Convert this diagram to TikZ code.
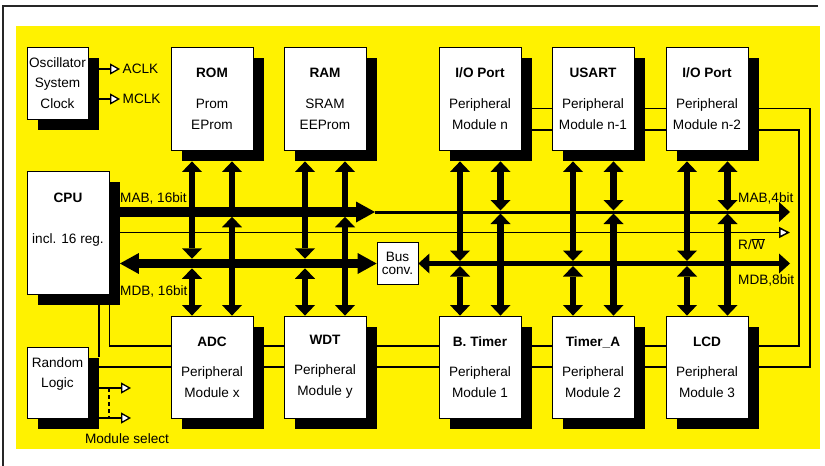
\documentclass[tikz,border=0pt]{standalone}
\usepackage{fontspec}
\setmainfont{Liberation Sans}
\usetikzlibrary{arrows.meta,shadows,calc}
\pgfdeclarelayer{bglayer}
\pgfdeclarelayer{ctllayer}
\pgfsetlayers{bglayer,ctllayer,main}
\tikzset{
  VT/.tip={Triangle[length=10.5pt,width=20pt,line width=0pt]},
  BT/.tip={Triangle[length=19pt,width=21pt,line width=0pt]},
  MT/.tip={Triangle[length=11pt,width=20pt,line width=0pt]},
  OT/.tip={Triangle[open,fill=white,length=10pt,width=11pt]},
}
\begin{document}
\begin{tikzpicture}[x=1pt,y=-1pt,
  font=\fontsize{13.6}{21}\selectfont,
  plainbox/.style={draw=black,line width=0.8pt,fill=white,inner sep=0pt,align=center},
  shbox/.style={plainbox,drop shadow={shadow xshift=10.5pt,shadow yshift=-10.5pt,fill=black,opacity=1}},
  modbox/.style={shbox,minimum width=82pt,minimum height=103pt},
  ctl/.style={line width=1.3pt},
  vbus/.style={line width=6.5pt,VT-VT},
  vtip/.style={line width=6.5pt,-VT},
  bigbus/.style={line width=9.5pt},
  lbl/.style={inner sep=0pt,anchor=west}
]
\useasboundingbox (0,0) rectangle (825,466);

\begin{pgfonlayer}{bglayer}
  \draw[line width=1.5pt,black!85] (818,6) -- (3,6) -- (3,466);
  \fill[yellow] (16,26) rectangle (820,449);
\end{pgfonlayer}

% ---------- boxes ----------
\node[shbox,minimum width=61pt,minimum height=72pt,font=\fontsize{13.6}{20.5}\selectfont] (osc) at (57.5,83) {Oscillator\\System\\Clock};
\node[modbox] (rom) at (212,98.5) {\textbf{ROM}\\[10pt]Prom\\EProm};
\node[modbox] (ram) at (325,98.5) {\textbf{RAM}\\[10pt]SRAM\\EEProm};
\node[modbox] (ion) at (480,98.5) {\textbf{I/O Port}\\[10pt]Peripheral\\Module n};
\node[modbox] (usart) at (593,98.5) {\textbf{USART}\\[10pt]Peripheral\\Module n-1};
\node[modbox] (iom) at (707,98.5) {\textbf{I/O Port}\\[10pt]Peripheral\\Module n-2};

\node[shbox,minimum width=82pt,minimum height=123pt] (cpu) at (68,232.5) {\textbf{CPU}\\[20pt]incl. 16 reg.\\[7pt]\mbox{}};
\node[plainbox,minimum width=41pt,minimum height=42pt] (bus) at (397.5,263.5) {Bus\\[-8pt]conv.};

\node[modbox,minimum height=102pt] (adc) at (212,367) {\textbf{ADC}\\[9pt]Peripheral\\Module x};
\node[modbox,minimum height=102pt] (wdt) at (325,367) {\textbf{WDT}\\[9pt]Peripheral\\Module y};
\node[modbox,minimum height=102pt] (btimer) at (480,367) {\textbf{B. Timer}\\[9pt]Peripheral\\Module 1};
\node[modbox,minimum height=102pt] (timera) at (593,367) {\textbf{Timer\_A}\\[9pt]Peripheral\\Module 2};
\node[modbox,minimum height=102pt] (lcd) at (707,367) {\textbf{LCD}\\[9pt]Peripheral\\Module 3};
\node[shbox,minimum width=61pt,minimum height=71pt,font=\fontsize{13.6}{20}\selectfont] (rl) at (57.5,382.5) {Random\\Logic\\\mbox{}};

% ---------- helper coordinates ----------
\coordinate (cpush) at ($(cpu.north east)+(10.5,0)$);
\coordinate (osh) at ($(osc.north east)+(10.5,0)$);
\coordinate (rlsh) at ($(rl.north east)+(10.5,10.5)$);
\coordinate (mabY) at (0,212);
\coordinate (mabB) at (0,216.75);
\coordinate (rwY) at (0,232.5);
\coordinate (mdbY) at (0,263.5);
\coordinate (mdbT) at (0,258.75);
\coordinate (mdbB) at (0,268.25);
\coordinate (mab4T) at (0,210.5);
\coordinate (mab4B) at (0,213.5);
\coordinate (mdb8T) at (0,261);
\coordinate (mdb8B) at (0,266);
\coordinate (mabtip) at (375,212);
\coordinate (rend) at (790,0);
\coordinate (inY) at (0,346);
\coordinate (inX) at (799,0);
\coordinate (inTop) at (0,130);
\coordinate (outY) at (0,367);
\coordinate (outX) at (810,0);
\coordinate (outTop) at (0,108.5);
\coordinate (ms1) at (131,388);
\coordinate (ms2) at (131,418);
\coordinate (msd) at (109,0);

% ---------- labels ----------
\node[lbl] (mab16) at (120,198) {MAB, 16bit};
\node[lbl] (mdb16) at (120,291) {MDB, 16bit};
\node[lbl] (mab4) at (738,198) {MAB,4bit};
\node[lbl] (rw) at (738,244) {R/$\overline{\mbox{W}}$};
\node[lbl] (mdb8) at (738,280) {MDB,8bit};
\node[lbl] (aclk) at (122.5,69) {ACLK};
\node[lbl] (mclk) at (122.5,99) {MCLK};
\node[inner sep=0pt] (msel) at (127,439) {Module select};

% ---------- control lines (behind boxes) ----------
\begin{pgfonlayer}{ctllayer}
  \draw[ctl] (cpu.south east) -- (cpu.south east |- inY) -- (inX |- inY) -- (inX |- inTop) -- (ion.center |- inTop);
  \draw[ctl] (cpu.south -| rlsh) -- (rlsh);
  \draw[ctl] (rlsh |- outY) -- (outX |- outY) -- (outX |- outTop) -- (ion.center |- outTop);
\end{pgfonlayer}

% ---------- clocks and module select ----------
\draw[ctl,-OT,shorten >=2.5pt] (osh |- aclk.west) -- (aclk.west);
\draw[ctl,-OT,shorten >=2.5pt] (osh |- mclk.west) -- (mclk.west);
\draw[ctl,-OT] (rlsh |- ms1) -- (ms1);
\draw[ctl,-OT] (rlsh |- ms2) -- (ms2);
\draw[ctl,dash pattern=on 4pt off 3pt] (msd |- ms1) -- (msd |- ms2);

% ---------- buses ----------
\draw[line width=3pt,-MT] (mabtip) -- (rend |- mabY);
\draw[bigbus,-BT] (cpush |- mabY) -- (mabtip);
\draw[line width=1.5pt,-{Triangle[open,fill=white,length=11pt,width=11pt]}] (cpush |- rwY) -- (rend |- rwY);
\draw[bigbus,BT-BT] (cpush |- mdbY) -- (bus.west);
\draw[line width=5pt,MT-MT] (bus.east) -- (rend |- mdbY);

% ---------- vertical connections ----------
\foreach \t/\b in {rom/adc,ram/wdt}{
  \coordinate (p) at ($(\t.south)+(-20,11)$);
  \coordinate (q) at ($(\t.south)+(20,11)$);
  \draw[vbus] (p) -- (p |- mdbT);
  \draw[vbus] (p |- mdbB) -- (p |- \b.north);
  \draw[vtip] (q |- mabY) -- (q);
  \draw[vbus] (q |- mabB) -- (q |- \b.north);
}
\foreach \t/\b in {ion/btimer,usart/timera,iom/lcd}{
  \coordinate (p) at ($(\t.south)+(-20,11)$);
  \coordinate (q) at ($(\t.south)+(20.5,11)$);
  \draw[vbus] (p) -- (p |- mdb8T);
  \draw[vbus] (p |- mdb8B) -- (p |- \b.north);
  \draw[vbus] (q) -- (q |- mab4T);
  \draw[vbus] (q |- mab4B) -- (q |- \b.north);
}
\end{tikzpicture}
\end{document}
